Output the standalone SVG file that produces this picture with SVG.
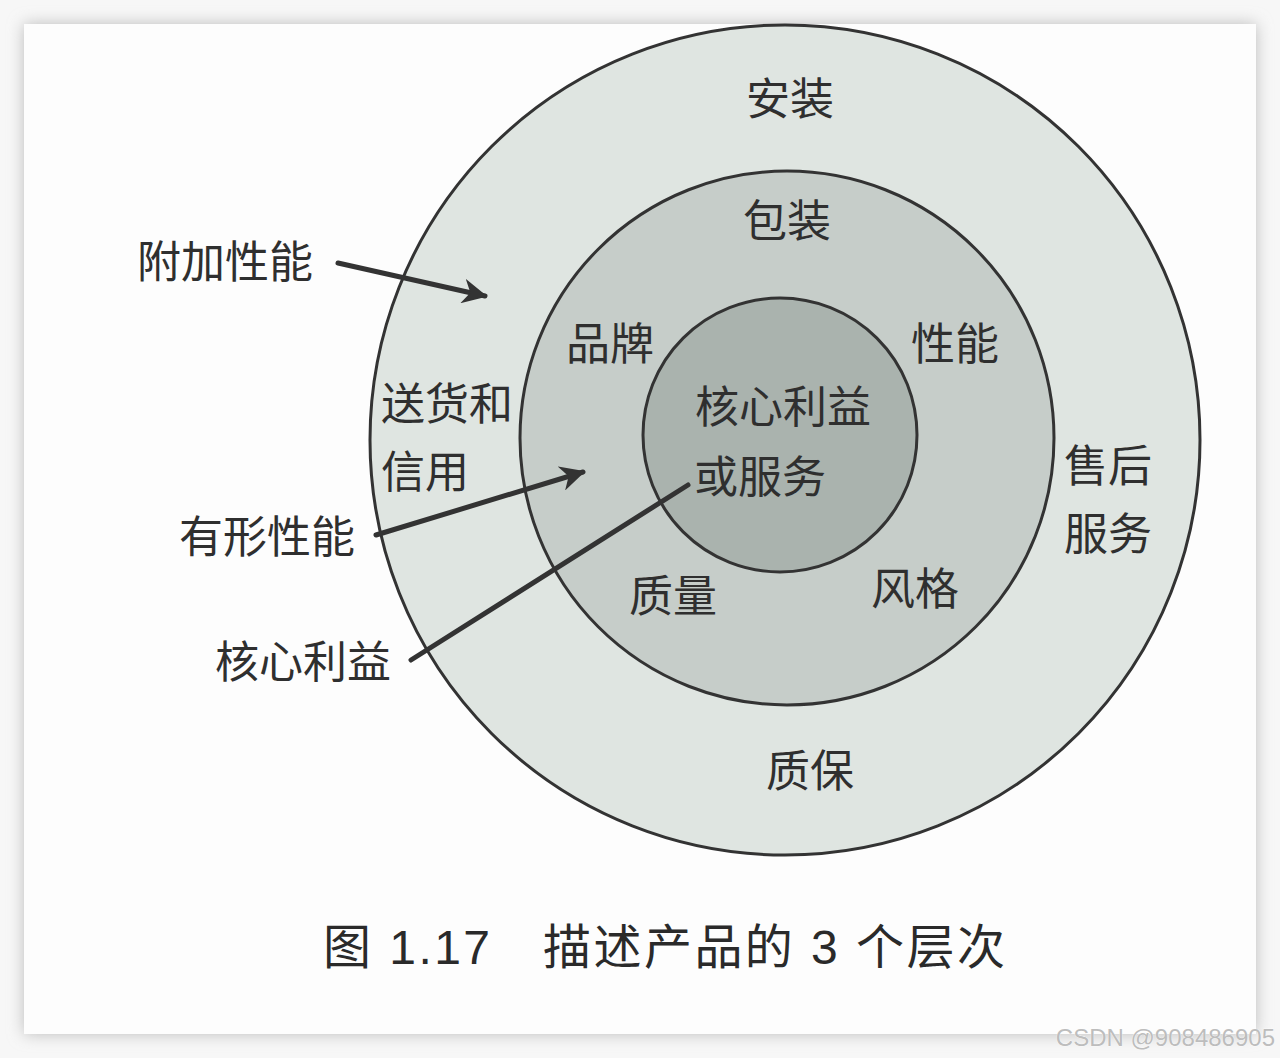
<svg xmlns="http://www.w3.org/2000/svg" width="1280" height="1058" viewBox="0 0 1280 1058">
<defs>
<filter id="sh" x="-5%" y="-5%" width="110%" height="110%"><feGaussianBlur stdDeviation="8"/></filter>
<marker id="ah" viewBox="0 0 10 10" refX="9" refY="5" markerWidth="5" markerHeight="5" orient="auto" markerUnits="strokeWidth"><path d="M0,0 L10,5 L0,10 L3,5 Z" fill="#333"/></marker>
</defs>
<style>
.t{font-family:"Noto Sans CJK SC","Noto Sans CJK JP",sans-serif;font-size:44px;fill:#2f2f2f;text-anchor:middle}
.ring{stroke:#333;stroke-width:3}
.ln{stroke:#333;stroke-width:5;fill:none;stroke-linecap:round}
.cap{font-family:"Liberation Sans","Noto Sans CJK SC",sans-serif;font-size:48px;fill:#2a2a2a}
</style>
<rect width="1280" height="1058" fill="#f7f7f7"/>
<rect x="24" y="24" width="1232" height="1010" fill="#bbb" filter="url(#sh)"/>
<rect x="24" y="24" width="1232" height="1010" fill="#fdfdfd"/>
<g id="outer"><circle cx="785" cy="440" r="415" fill="#dfe5e1" class="ring"/></g>
<g id="middle"><circle cx="787" cy="438" r="267" fill="#c6cdc9" class="ring"/></g>
<g id="inner"><circle cx="780" cy="435" r="137" fill="#aab3ae" class="ring"/></g>
<g id="labels-outer">
<text class="t" x="790" y="115">安装</text>
<text class="t" x="447" y="420">送货和</text>
<text class="t" x="425" y="488">信用</text>
<text class="t" x="1108" y="482">售后</text>
<text class="t" x="1108" y="550">服务</text>
<text class="t" x="810" y="787">质保</text>
</g>
<g id="labels-middle">
<text class="t" x="787" y="237">包装</text>
<text class="t" x="610" y="360">品牌</text>
<text class="t" x="955" y="360">性能</text>
<text class="t" x="673" y="612">质量</text>
<text class="t" x="915" y="605">风格</text>
</g>
<g id="labels-inner">
<text class="t" x="783" y="423">核心利益</text>
<text class="t" x="760" y="493">或服务</text>
</g>
<g id="connectors">
<line class="ln" x1="338" y1="263" x2="485" y2="296" marker-end="url(#ah)"/>
<line class="ln" x1="376" y1="535" x2="583" y2="472" marker-end="url(#ah)"/>
<line class="ln" x1="411" y1="660" x2="688" y2="485"/>
</g>
<g id="callouts">
<text class="t" x="225" y="278">附加性能</text>
<text class="t" x="267" y="553">有形性能</text>
<text class="t" x="303" y="678">核心利益</text>
</g>
<text class="cap" x="323" y="964" textLength="682" lengthAdjust="spacing">图 1.17　描述产品的 3 个层次</text>
<text x="1275" y="1046" text-anchor="end" font-family="Liberation Sans, sans-serif" font-size="24" fill="#bdbdbd" stroke="#ffffff" stroke-width="0.6" paint-order="stroke">CSDN @908486905</text>
</svg>
